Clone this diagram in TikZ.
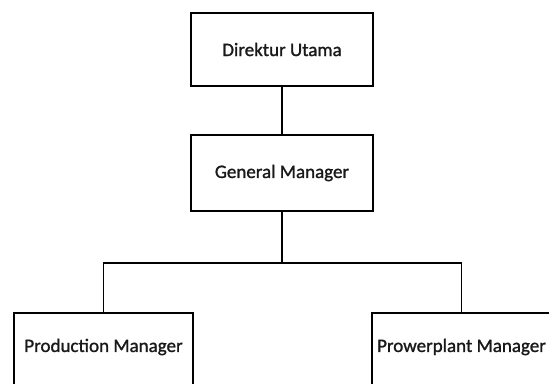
\documentclass[tikz,border=0pt]{standalone}
\usepackage{fontspec}
\setmainfont{Carlito}
\newfontfamily\lblfont{Carlito}[FakeBold=1.2]
\begin{document}
\begin{tikzpicture}[x=1pt,y=-1pt,
  lbl/.style={font=\fontsize{19}{22}\lblfont,text=black!90,inner sep=0pt},
  box/.style={draw=black,line width=1.7pt,fill=white,inner sep=0pt,lbl},
  link/.style={draw=black,line width=1.7pt}]
\useasboundingbox (0,0) rectangle (549,383);
\clip (0,0) rectangle (549,383);
\node[box,minimum width=182pt,minimum height=73pt] (du) at (282,49.5) {Direktur Utama};
\node[box,minimum width=182pt,minimum height=76pt] (gm) at (282,173) {General Manager};
\node[box,minimum width=179pt,minimum height=90pt] (pm) at (103.5,358) {};
\node[box,minimum width=179pt,minimum height=90pt] (ppm) at (461.5,358) {};
\node[lbl] (pmt) at (103.5,347) {Production Manager};
\node[lbl] (ppmt) at (461.5,347) {Prowerplant Manager};
\coordinate (j) at (282,263);
\draw[link] (du.south) -- (gm.north);
\draw[link] (gm.south) -- (j);
\draw[link] (j) -| (pm.north);
\draw[link] (j) -| (ppm.north);
\end{tikzpicture}
\end{document}
